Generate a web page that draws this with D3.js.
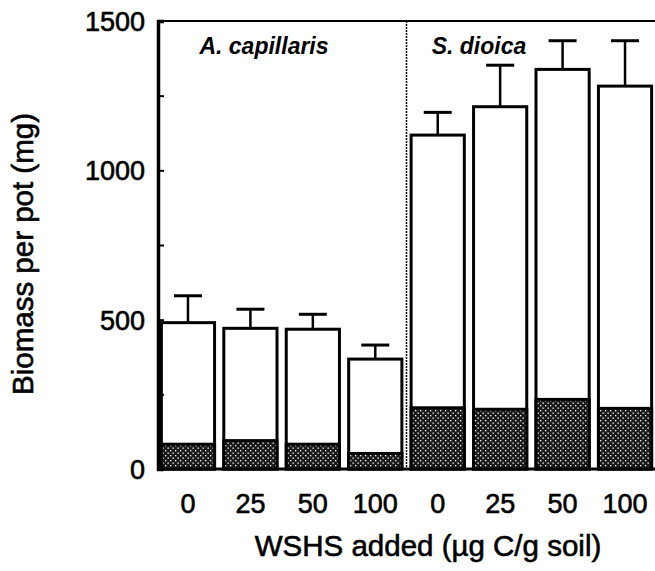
<!DOCTYPE html>
<html>
<head>
<meta charset="utf-8">
<script src="https://cdn.jsdelivr.net/npm/d3@7"></script>
<style>
  html, body { margin: 0; padding: 0; background: #fff; }
  svg { display: block; }
  text { font-family: "Liberation Sans", Arial, Helvetica, sans-serif; fill: #000; stroke: #000; stroke-width: 0.6px; }
</style>
</head>
<body>
<svg id="chart" width="655" height="571"></svg>
<script>
// ---- data ----
const doses = ["0", "25", "50", "100", "0", "25", "50", "100"];
const species = ["A. capillaris", "A. capillaris", "A. capillaris", "A. capillaris",
                 "S. dioica", "S. dioica", "S. dioica", "S. dioica"];
const speciesLabels = ["A. capillaris", "S. dioica"];
const totalBiomass = [490, 471, 468, 368, 1118, 1213, 1338, 1282];
const errorSE = [90, 64, 50, 47, 76, 139, 96, 152];
const rootBiomass = [83, 95, 83, 52, 205, 200, 233, 203];
const yTickValues = [0, 250, 500, 750, 1000, 1250, 1500];
const yLabelValues = [0, 500, 1000, 1500];

const bars = doses.map((d, i) => ({
  id: i, dose: d, species: species[i],
  total: totalBiomass[i], se: errorSE[i], root: rootBiomass[i]
}));

// ---- layout ----
const svg = d3.select("#chart");
const mLeft = 158, mRight = 655, mTop = 21, mBottom = 469;

const x = d3.scaleBand().domain(bars.map(b => b.id))
  .range([mLeft, mRight]).paddingInner(0.1).paddingOuter(0.03);
const y = d3.scaleLinear().domain([0, 1500]).range([mBottom, mTop]);

// stipple pattern for the hatched (lower) part
const defs = svg.append("defs");
const pat = defs.append("pattern").attr("id", "stipple")
  .attr("patternUnits", "userSpaceOnUse").attr("width", 5).attr("height", 5);
pat.append("rect").attr("width", 5).attr("height", 5).attr("fill", "#1a1a1a");
pat.append("rect").attr("x", 0).attr("y", 0).attr("width", 1.3).attr("height", 1.3).attr("fill", "#fff");
pat.append("rect").attr("x", 2.5).attr("y", 2.5).attr("width", 1.3).attr("height", 1.3).attr("fill", "#fff");

// ---- bars ----
const g = svg.append("g");
const bw = x.bandwidth();

g.selectAll("rect.total").data(bars).join("rect")
  .attr("class", "total")
  .attr("x", d => x(d.id) + 1.5)
  .attr("width", bw - 3)
  .attr("y", d => y(d.total))
  .attr("height", d => y(0) - y(d.total))
  .attr("fill", "#fff")
  .attr("stroke", "#000").attr("stroke-width", 3);

g.selectAll("rect.root").data(bars).join("rect")
  .attr("class", "root")
  .attr("x", d => x(d.id) + 1.5)
  .attr("width", bw - 3)
  .attr("y", d => y(d.root))
  .attr("height", d => y(0) - y(d.root))
  .attr("fill", "url(#stipple)")
  .attr("stroke", "#000").attr("stroke-width", 3);

// error bars
const capW = 28;
g.selectAll("line.err").data(bars).join("line")
  .attr("class", "err")
  .attr("x1", d => x(d.id) + bw / 2).attr("x2", d => x(d.id) + bw / 2)
  .attr("y1", d => y(d.total)).attr("y2", d => y(d.total + d.se))
  .attr("stroke", "#000").attr("stroke-width", 2.5);
g.selectAll("line.cap").data(bars).join("line")
  .attr("class", "cap")
  .attr("x1", d => x(d.id) + bw / 2 - capW / 2).attr("x2", d => x(d.id) + bw / 2 + capW / 2)
  .attr("y1", d => y(d.total + d.se)).attr("y2", d => y(d.total + d.se))
  .attr("stroke", "#000").attr("stroke-width", 3);

// divider between species
const divX = (x(3) + bw + x(4)) / 2;
svg.append("line")
  .attr("x1", divX).attr("x2", divX).attr("y1", y(1500)).attr("y2", y(0))
  .attr("stroke", "#000").attr("stroke-width", 1.5).attr("stroke-dasharray", "2,1");

// frame: top line, baseline, left axis
svg.append("line").attr("x1", mLeft).attr("x2", 655).attr("y1", y(1500)).attr("y2", y(1500))
  .attr("stroke", "#000").attr("stroke-width", 2);
svg.append("line").attr("x1", mLeft).attr("x2", 655).attr("y1", y(0)).attr("y2", y(0))
  .attr("stroke", "#000").attr("stroke-width", 3);

const yAxis = d3.axisRight(y).tickValues(yTickValues).tickSize(6).tickFormat("");
const ya = svg.append("g").attr("transform", `translate(${mLeft},0)`).call(yAxis);
ya.select(".domain").attr("stroke", "#000").attr("stroke-width", 3.5);
ya.selectAll(".tick line").attr("stroke", "#000").attr("stroke-width", 2);

// y labels
svg.selectAll("text.ylab").data(yLabelValues).join("text")
  .attr("class", "ylab")
  .attr("x", 145).attr("y", d => y(d) + 10)
  .attr("text-anchor", "end")
  .attr("font-size", 27)
  .text(d => d);

// x labels
svg.selectAll("text.xlab").data(bars).join("text")
  .attr("class", "xlab")
  .attr("x", d => x(d.id) + bw / 2).attr("y", 513)
  .attr("text-anchor", "middle")
  .attr("font-size", 27)
  .text(d => d.dose);

// species labels
svg.selectAll("text.sp").data(speciesLabels).join("text")
  .attr("class", "sp")
  .attr("x", (d, i) => i === 0 ? 264 : 479).attr("y", 54)
  .attr("text-anchor", "middle")
  .attr("font-size", 23).attr("font-style", "italic").attr("font-weight", "bold")
  .style("stroke-width", "0px")
  .text(d => d);

// axis titles
svg.append("text")
  .attr("x", 428).attr("y", 556)
  .attr("text-anchor", "middle").attr("font-size", 29.5)
  .text("WSHS added (\u00B5g C/g soil)");
svg.append("text")
  .attr("transform", "translate(33,254) rotate(-90)")
  .attr("text-anchor", "middle").attr("font-size", 29.5)
  .text("Biomass per pot (mg)");
</script>
</body>
</html>
